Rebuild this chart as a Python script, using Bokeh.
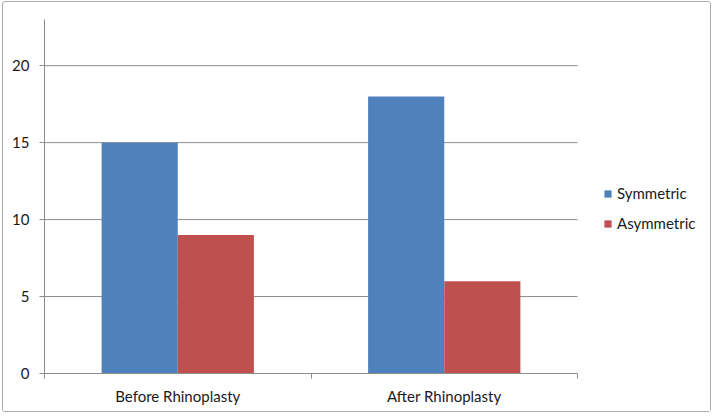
from bokeh.plotting import figure
from bokeh.models import FixedTicker, Legend, LegendItem, Range1d, ColumnDataSource
from bokeh.embed import file_html
from bokeh.resources import INLINE

categories = ["Before Rhinoplasty", "After Rhinoplasty"]
series_names = ["Symmetric", "Asymmetric"]
symmetric = [15, 18]
asymmetric = [9, 6]
y_ticks = [0, 5, 10, 15, 20]
y_max = 23

colors = ["#4F81BD", "#C0504D"]
FONT = "Lato"
FS = "15px"
TXT = "#1a1a1a"

W, H = 709, 411
LEFT, TOP, BOTTOM = 41, 17, 40
PLOT_W = 533                      # width of the category area in px
frame_w = W - LEFT
n = len(categories)
x_end = n * frame_w / PLOT_W      # frame extends to the right to hold the legend

p = figure(width=W, height=H, output_backend="svg", toolbar_location=None,
           x_range=Range1d(0, x_end), y_range=Range1d(0, y_max),
           min_border_left=LEFT, min_border_right=0, min_border_top=TOP,
           min_border_bottom=BOTTOM)
p.styles = {"border": "1px solid #ababab", "border-radius": "3px",
            "margin-left": "2px", "margin-top": "1px"}
p.outline_line_color = None
p.background_fill_color = "white"
p.border_fill_color = "white"

grey = "#8c8c8c"
# horizontal gridlines only across the category area
gy = [t for t in y_ticks if t > 0]
p.segment(x0=[0] * len(gy), x1=[n] * len(gy), y0=gy, y1=gy, line_color=grey, line_width=1)

bw = 1 / 3.5
centers = [i + 0.5 for i in range(n)]
renderers = []
for k, (vals, col) in enumerate(zip([symmetric, asymmetric], colors)):
    xs = [c + (k - 0.5) * bw for c in centers]
    src = ColumnDataSource(dict(x=xs, top=vals))
    r = p.vbar(x="x", top="top", width=bw, source=src, fill_color=col, line_color=None)
    renderers.append(r)

xa = p.xaxis[0]
xa.bounds = (0, n)
xa.ticker = FixedTicker(ticks=centers, minor_ticks=list(range(n + 1)))
xa.major_label_overrides = {c: name for c, name in zip(centers, categories)}
xa.major_tick_out = 0
xa.major_tick_in = 0
xa.minor_tick_out = 5
xa.minor_tick_in = 0
xa.minor_tick_line_color = grey
xa.axis_line_color = grey
xa.major_label_standoff = 8
xa.major_label_text_font = FONT
xa.major_label_text_font_size = FS
xa.major_label_text_color = TXT

ya = p.yaxis[0]
ya.ticker = FixedTicker(ticks=y_ticks)
ya.major_tick_out = 5
ya.major_tick_in = 0
ya.minor_tick_line_color = None
ya.major_tick_line_color = grey
ya.axis_line_color = grey
ya.major_label_standoff = 10
ya.major_label_text_font = FONT
ya.major_label_text_font_size = FS
ya.major_label_text_color = TXT

p.xgrid.visible = False
p.ygrid.visible = False

legend = Legend(items=[LegendItem(label=s, renderers=[r]) for s, r in zip(series_names, renderers)],
                location=(559, 140), orientation="vertical")
legend.border_line_color = None
legend.background_fill_alpha = 0
legend.padding = 0
legend.margin = 0
legend.glyph_width = 9
legend.glyph_height = 9
legend.label_standoff = 5
legend.label_height = 20
legend.spacing = 10
legend.label_text_font = FONT
legend.label_text_font_size = FS
legend.label_text_color = TXT
p.add_layout(legend)

open("out.html", "w").write(file_html(p, INLINE))
